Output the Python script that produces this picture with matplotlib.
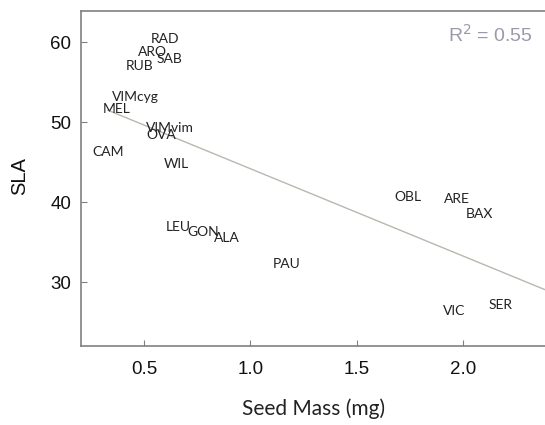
import matplotlib.pyplot as plt
import numpy as np

# species labels placed at (seed mass, SLA)
species = ['RAD', 'ARO', 'SAB', 'RUB', 'VIMcyg', 'MEL', 'VIMvim', 'OVA', 'CAM', 'WIL',
           'LEU', 'GON', 'ALA', 'PAU', 'OBL', 'ARE', 'BAX', 'VIC', 'SER']
seed_mass = [0.60, 0.54, 0.62, 0.48, 0.46, 0.37, 0.62, 0.58, 0.33, 0.65,
             0.66, 0.78, 0.89, 1.17, 1.74, 1.97, 2.08, 1.96, 2.18]
sla = [60.4, 58.8, 57.9, 57.0, 53.1, 51.7, 49.3, 48.4, 46.3, 44.8,
       36.9, 36.3, 35.6, 32.3, 40.7, 40.4, 38.6, 26.4, 27.2]

fit_slope = -10.9
fit_intercept = 55.1
r2 = 0.55

fig = plt.figure(figsize=(5.45, 4.25), dpi=100)
ax = fig.add_axes([0.1486, 0.186, 0.8514, 0.788])

xs = np.array([min(seed_mass), 2.4])
ax.plot(xs, fit_intercept + fit_slope * xs, color='#b8b8b0', lw=1.0)

for name, x, y in zip(species, seed_mass, sla):
    ax.text(x, y, name, ha='center', va='center', fontsize=10,
            family='Lato', color='#222222')

ax.text(0.974, 0.908, 'R$^2$ = %.2f' % r2, transform=ax.transAxes, ha='right', va='baseline',
        fontsize=14, color='#9a9aaa', family='Liberation Sans')

ax.set_xlim(0.203, 2.387)
ax.set_ylim(22.05, 63.9)
ax.set_xticks([0.5, 1.0, 1.5, 2.0])
ax.set_xticklabels(['0.5', '1.0', '1.5', '2.0'])
ax.set_yticks([30, 40, 50, 60])

for s in ['left', 'bottom', 'top']:
    ax.spines[s].set_color('#808080')
    ax.spines[s].set_linewidth(1.2)
ax.spines['right'].set_visible(False)
ax.tick_params(direction='in', length=4, color='#808080', labelsize=13.5)
ax.tick_params(axis='x', pad=11)
ax.tick_params(axis='y', pad=7)
for lab in ax.get_xticklabels() + ax.get_yticklabels():
    lab.set_family('Liberation Sans')
    lab.set_color('#111111')

ax.set_xlabel('Seed Mass (mg)', fontsize=15, family='Lato', color='#222222')
ax.xaxis.set_label_coords(0.502, -0.158)
ax.set_ylabel('SLA', fontsize=14.5, family='Liberation Sans', color='#111111')
ax.yaxis.set_label_coords(-0.112, 0.507)

fig.savefig('out.png', dpi=100)
